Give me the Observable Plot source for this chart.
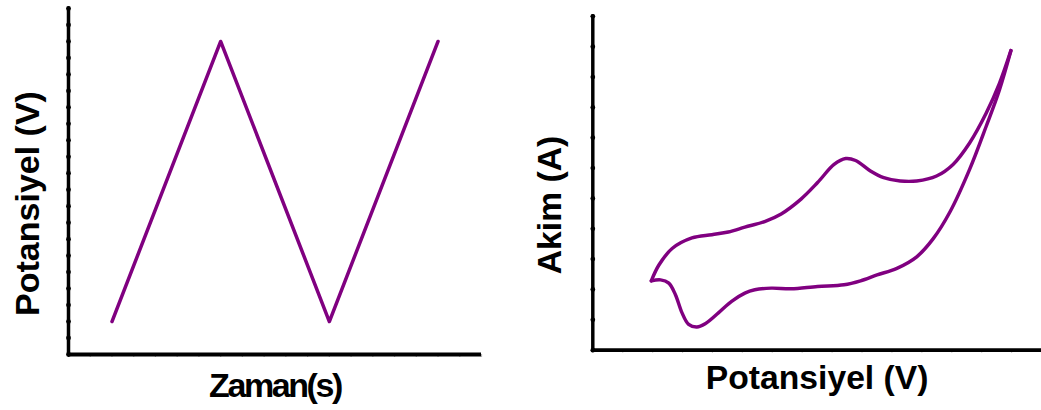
<!DOCTYPE html>
<html><head><meta charset="utf-8">
<script src="https://cdn.jsdelivr.net/npm/d3@7"></script>
<script src="https://cdn.jsdelivr.net/npm/@observablehq/plot@0.6"></script>
<style>
body{margin:0;background:#fff;}
#wrap{display:flex;width:1041px;height:410px;overflow:hidden;}
#left{width:520px;height:410px;overflow:hidden;flex:none}
#right{width:521px;height:410px;overflow:hidden;flex:none}
.zaman text{letter-spacing:-2.4px}
</style></head><body><div id="wrap"><div id="left"></div><div id="right"></div></div>
<script>
// Left panel: potential vs time (triangle wave)
const timeValues = [2, 7, 12, 17];
const potentialValues = [2, 19, 2, 19];
const leftXTicks = [0,1,2,3,4,5,6,7,8,9,10,11,12,13,14,15,16,17,18,19];
const leftYTicks = [0,1,2,3,4,5,6,7,8,9,10,11,12,13,14,15,16,17,18,19,20,21];

// Right panel: cyclic voltammogram
const forwardE = [1.956,2.210,2.652,3.315,3.978,4.530,5.083,5.746,6.298,6.961,7.514,8.066,8.453,8.785,9.282,9.724,10.276,10.829,11.492,12.044,12.597,13.149,13.591,13.978];
const forwardI = [2.283,2.804,3.348,3.696,3.804,3.891,4.054,4.239,4.489,4.978,5.522,6.120,6.315,6.250,5.902,5.685,5.576,5.576,5.739,6.120,6.826,7.804,8.783,9.870];
const reverseE = [13.978,13.591,13.149,12.597,11.934,11.381,10.829,10.166,9.503,8.950,8.398,7.514,6.630,5.967,5.414,5.083,4.641,4.199,3.757,3.481,3.204,2.983,2.762,2.541,2.265,1.956];
const reverseI = [9.870,8.565,7.370,5.957,4.543,3.674,3.076,2.696,2.478,2.283,2.152,2.098,2.022,2.043,1.989,1.880,1.609,1.228,0.870,0.761,0.848,1.228,1.826,2.207,2.315,2.283];
const rightXTicks = [0,1,2,3,4,5,6,7,8,9,10,11,12,13,14,15];
const rightYTicks = [0,1,2,3,4,5,6,7,8,9,10,11];

const purple = "#800080";
const font = "'Liberation Sans', Arial, sans-serif";

const triData = timeValues.map((t, k) => ({t, v: potentialValues[k]}));
const fwd = forwardE.map((e, k) => ({e, i: forwardI[k]}));
const rev = reverseE.map((e, k) => ({e, i: reverseI[k]}));

const left = Plot.plot({
  width: 520, height: 410,
  marginLeft: 68, marginRight: 39, marginTop: 8, marginBottom: 56,
  style: {fontFamily: font, background: "white", overflow: "visible"},
  x: {domain: [0, 19]},
  y: {domain: [0, 21], axis: null},
  marks: [
    Plot.axisX({ticks: leftXTicks, tickSize: 3, stroke: "#b0b0b0", strokeWidth: 1.2, tickFormat: () => "", label: null}),
    Plot.ruleY([0], {x1: 0, x2: 19, stroke: "black", strokeWidth: 4}),
    Plot.ruleX([0], {y1: 0, y2: 21, stroke: "black", strokeWidth: 3.5, strokeLinecap: "round"}),
    Plot.dot(leftYTicks, {x: 0, y: d => d, r: 2.4, fill: "black"}),
    Plot.line(triData, {x: "t", y: "v", stroke: purple, strokeWidth: 3.5}),
    Plot.text(["Zaman(s)"], {frameAnchor: "bottom", dy: 32, lineAnchor: "middle", textAnchor: "middle", fontSize: 34, fontWeight: "bold", className: "zaman"}),
    Plot.text(["Potansiyel (V)"], {frameAnchor: "left", rotate: -90, dx: -40, dy: 22, lineAnchor: "middle", textAnchor: "middle", fontSize: 34, fontWeight: "bold"})
  ]
});

const right = Plot.plot({
  width: 526, height: 410,
  marginLeft: 73, marginRight: 0, marginTop: 16, marginBottom: 57,
  style: {fontFamily: font, background: "white", overflow: "visible"},
  x: {domain: [0, 15]},
  y: {domain: [0, 11], axis: null},
  marks: [
    Plot.axisX({ticks: rightXTicks, tickSize: 3, stroke: "#b0b0b0", strokeWidth: 1.2, tickFormat: () => "", label: null}),
    Plot.ruleY([0], {x1: 0, x2: 15, stroke: "black", strokeWidth: 4}),
    Plot.ruleX([0], {y1: 0, y2: 11, stroke: "black", strokeWidth: 3.5, strokeLinecap: "round"}),
    Plot.dot(rightYTicks, {x: 0, y: d => d, r: 2.4, fill: "black"}),
    Plot.line(fwd, {x: "e", y: "i", stroke: purple, strokeWidth: 3.5, curve: "catmull-rom"}),
    Plot.line(rev, {x: "e", y: "i", stroke: purple, strokeWidth: 3.5, curve: "catmull-rom"}),
    Plot.text(["Potansiyel (V)"], {frameAnchor: "bottom", dy: 28, lineAnchor: "middle", textAnchor: "middle", fontSize: 34, fontWeight: "bold"}),
    Plot.text(["Akim (A)"], {frameAnchor: "left", rotate: -90, dx: -43, dy: 22, lineAnchor: "middle", textAnchor: "middle", fontSize: 34, fontWeight: "bold"})
  ]
});

document.getElementById("left").appendChild(left);
document.getElementById("right").appendChild(right);
</script>
</body></html>
